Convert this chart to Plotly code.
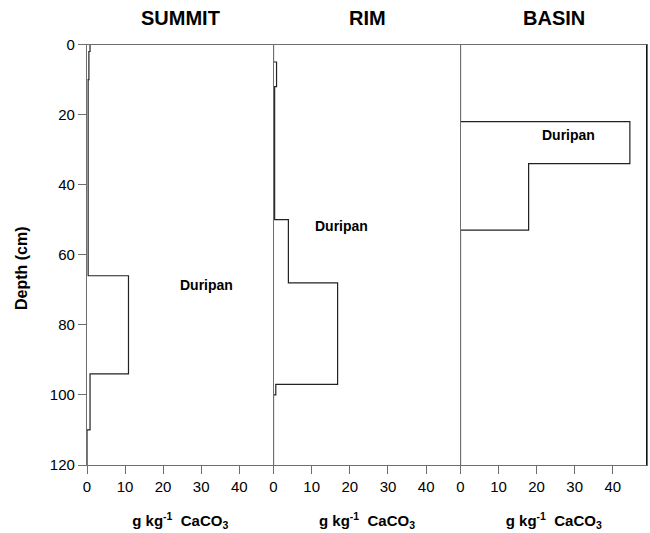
import plotly.graph_objects as go

W, H = 650, 533

# ---- data (layer top, layer bottom in cm; CaCO3 in g/kg) ----
sites = ["SUMMIT", "RIM", "BASIN"]
summit_tops = [0, 2, 10, 66, 94, 110]
summit_bots = [2, 10, 66, 94, 110, 120]
summit_vals = [0.8, 0.5, 0.3, 10.9, 0.8, 0.0]

rim_tops = [0, 5, 12, 50, 68, 97, 100]
rim_bots = [5, 12, 50, 68, 97, 100, 120]
rim_vals = [0.0, 0.8, 0.3, 3.9, 16.8, 0.6, 0.0]

basin_tops = [0, 22, 34, 53]
basin_bots = [22, 34, 53, 120]
basin_vals = [0.0, 44.5, 17.9, 0.0]

duripan_x = [31.3, 17.7, 28.3]
duripan_y = [68.5, 51.9, 25.8]

x_ticks = [0, 10, 20, 30, 40]
y_ticks = [0, 20, 40, 60, 80, 100, 120]

profiles = [
    (summit_tops, summit_bots, summit_vals),
    (rim_tops, rim_bots, rim_vals),
    (basin_tops, basin_bots, basin_vals),
]

def step_path(tops, bots, vals):
    xs, ys = [], []
    for t, b, v in zip(tops, bots, vals):
        xs += [v, v]
        ys += [t, b]
    return xs, ys

FONT = "Liberation Sans, Arial, sans-serif"
fig = go.Figure()

# panel geometry in pixels
left_px = [87, 273.5, 460.5]
right_px = [273.5, 460.5, 647]
top_px, bot_px = 44.5, 465

ydom = [1 - bot_px / H, 1 - top_px / H]

for i, (tops, bots, vals) in enumerate(profiles):
    xs, ys = step_path(tops, bots, vals)
    suffix = "" if i == 0 else str(i + 1)
    fig.add_trace(go.Scatter(
        x=xs, y=ys, mode="lines",
        line=dict(color="#222222", width=1.2),
        xaxis="x" + suffix, yaxis="y" + suffix,
        showlegend=False, hoverinfo="skip"))

axis_line = "#6e6e6e"
layout = dict(
    width=W, height=H,
    margin=dict(l=0, r=0, t=0, b=0),
    plot_bgcolor="white", paper_bgcolor="white",
    font=dict(family=FONT, color="black", size=14),
    showlegend=False,
)

for i in range(3):
    suffix = "" if i == 0 else str(i + 1)
    xname = "xaxis" + suffix
    yname = "yaxis" + suffix
    layout[xname] = dict(
        domain=[left_px[i] / W, right_px[i] / W],
        range=[0, 49], anchor="y" + suffix,
        tickvals=x_ticks, ticks="outside", ticklen=8, tickwidth=1,
        tickcolor=axis_line, showline=True, linecolor=axis_line, linewidth=1.2,
        mirror=True, showgrid=False, zeroline=False,
        tickfont=dict(size=15, family=FONT),
        title=dict(text="<b>g kg<sup>-1</sup>  CaCO<sub>3</sub></b>",
                   font=dict(size=15, family=FONT), standoff=21),
        automargin=False,
    )
    ydict = dict(
        domain=ydom, range=[120, 0], anchor="x" + suffix,
        showline=True, linecolor=axis_line, linewidth=1.2,
        showgrid=False, zeroline=False, automargin=False,
    )
    if i == 0:
        ydict.update(tickvals=y_ticks, ticks="outside", ticklen=8, tickwidth=1,
                     tickcolor=axis_line, tickfont=dict(size=15, family=FONT))
    else:
        ydict.update(matches="y", showticklabels=False, ticks="")
    if i == 2:
        ydict.update(mirror=True)
    layout[yname] = ydict

fig.update_layout(**layout)

# y-axis title (placed slightly below plot centre, as in the reference)
fig.add_annotation(text="<b>Depth (cm)</b>", x=21 / W, y=1 - 268 / H,
                   xref="paper", yref="paper", showarrow=False, textangle=-90,
                   font=dict(size=16, family=FONT), xanchor="center",
                   yanchor="middle")

# panel titles
for i, name in enumerate(sites):
    cx = (left_px[i] + right_px[i]) / 2 / W
    fig.add_annotation(text="<b>%s</b>" % name, x=cx, y=1 - 18 / H,
                       xref="paper", yref="paper", showarrow=False,
                       font=dict(size=20, family=FONT), xanchor="center",
                       yanchor="middle")

# Duripan labels
for i in range(3):
    suffix = "" if i == 0 else str(i + 1)
    fig.add_annotation(text="<b>Duripan</b>", x=duripan_x[i], y=duripan_y[i],
                       xref="x" + suffix, yref="y" + suffix, showarrow=False,
                       font=dict(size=14, family=FONT))

# right frame of last panel (dark)
fig.add_shape(type="line", xref="x3", yref="y3", x0=49, x1=49, y0=0, y1=120,
              line=dict(color="#111111", width=2))

fig.write_html("out.html")
